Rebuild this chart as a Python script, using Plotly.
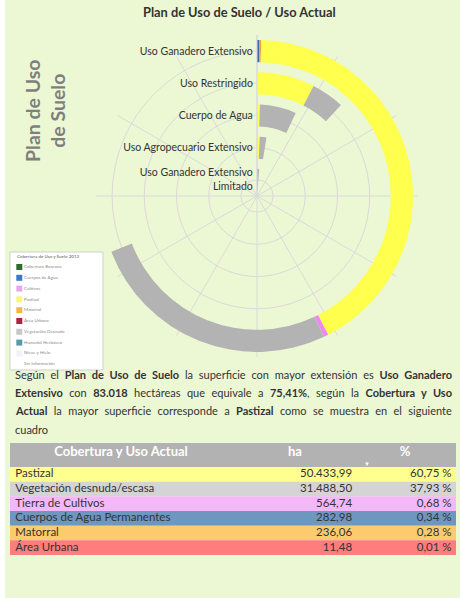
import plotly.graph_objects as go

BG = '#ECF7D4'
FONT = 'Lato'
W, H = 460, 598

# ---- chart data (ha) ----
plan = ['Uso Ganadero Extensivo<br>Limitado', 'Uso Agropecuario Extensivo',
        'Cuerpo de Agua', 'Uso Restringido', 'Uso Ganadero Extensivo']
cuerpos_agua = [0, 0, 0, 0, 282.98]
matorral = [0, 0, 0, 0, 236.06]
pastizal = [0, 900, 620, 9070, 50433.99]
cultivos = [0, 0, 0, 0, 564.74]
vegetacion = [1560, 2170, 7710, 5160, 31488.50]
area_urbana = [0, 0, 0, 0, 11.48]

series = [
    ('Cuerpos de Agua', cuerpos_agua, '#2E6DB4'),
    ('Matorral', matorral, '#F0A030'),
    ('Pastizal', pastizal, '#FFFF4D'),
    ('Cultivos', cultivos, '#EE88F0'),
    ('Vegetación desnuda', vegetacion, '#B3B3B3'),
    ('Área Urbana', area_urbana, '#C0304A'),
]
FULL_SCALE = 120000  # ha for a full turn
RING = 0.6875        # ring thickness in radial units

# ---- table data ----
tab_header = ['Cobertura y Uso Actual', 'ha', '%']
cob_names = ['Pastizal', 'Vegetación desnuda/escasa', 'Tierra de Cultivos',
             'Cuerpos de Agua Permanentes', 'Matorral', 'Área Urbana']
cob_ha = ['50.433,99', '31.488,50', '564,74', '282,98', '236,06', '11,48']
cob_pct = ['60,75 %', '37,93 %', '0,68 %', '0,34 %', '0,28 %', '0,01 %']
row_colors = ['#FFFF8F', '#D4D4D4', '#F4B8F8', '#6E97C0', '#FCCB6E', '#FF7D7D']

# ---- legend picture data ----
leg_names = ['Cobertura Boscosa', 'Cuerpos de Agua', 'Cultivos', 'Pastizal', 'Matorral',
             'Área Urbana', 'Vegetación Desnuda', 'Humedal Herbáceo', 'Nieve y Hielo', 'Sin Información']
leg_colors = ['#2E6B2E', '#3A78C8', '#E8A8F0', '#F7F77A', '#F0B848',
              '#B02040', '#C8C8C8', '#5A9AA8', '#F2F2FA', '#FFFFFF']


def px(x): return x / W
def py(y): return 1 - y / H


fig = go.Figure()

# radial stacked bars
positions = list(range(len(plan)))
start = [0.0] * len(plan)
for name, vals, col in series:
    fig.add_trace(go.Barpolar(
        r=[RING] * len(plan),
        base=[p + 0.5 - RING / 2 for p in positions],
        theta=[(s + v / 2) * 360 / FULL_SCALE for s, v in zip(start, vals)],
        width=[v * 360 / FULL_SCALE for v in vals],
        marker=dict(color=col, line=dict(width=0)),
        name=name, showlegend=False, hoverinfo='skip'))
    start = [s + v for s, v in zip(start, vals)]

fig.update_layout(
    width=W, height=H,
    paper_bgcolor=BG, plot_bgcolor=BG,
    margin=dict(l=0, r=0, t=0, b=0),
    font=dict(family=FONT, color='#333333'),
    showlegend=False, barmode='overlay',
    polar=dict(
        domain=dict(x=[px(96), px(418)], y=[py(357), py(35)]),
        bgcolor='rgba(0,0,0,0)',
        radialaxis=dict(range=[0, 5], tickvals=[p + 0.5 for p in positions], ticktext=plan,
                        angle=90, side='counterclockwise', tickangle=90, ticks='',
                        showline=True, linecolor='#D9D9D9', linewidth=1,
                        gridcolor='#DADADA', gridwidth=1,
                        tickfont=dict(size=10.5, color='#333333', family=FONT)),
        angularaxis=dict(rotation=90, direction='clockwise', dtick=30, showticklabels=False,
                         ticks='', showline=False, gridcolor='#DADADA', gridwidth=1),
    ),
)

# legend picture
fig.add_trace(go.Scatter(
    x=[0.1] * len(leg_names), y=list(range(len(leg_names))),
    mode='markers+text', text=leg_names, textposition='middle right',
    textfont=dict(size=4.5, color='#8A8A8A', family=FONT),
    marker=dict(symbol='square', size=6, color=leg_colors, line=dict(width=0)),
    xaxis='x', yaxis='y', hoverinfo='skip', cliponaxis=False))
fig.add_shape(type='rect', xref='paper', yref='paper', x0=px(10), x1=px(103), y0=py(370), y1=py(252),
              fillcolor='white', line=dict(color='#CFCFCF', width=1), layer='below')
fig.add_annotation(xref='x', yref='y', x=0.05, y=-0.95, text='<b>Cobertura de Uso y Suelo 2013</b>',
                   showarrow=False, xanchor='left', yanchor='middle', font=dict(size=4.5, color='#8A8A8A'))

# white strip on left edge
fig.add_shape(type='rect', xref='paper', yref='paper', x0=0, x1=px(5), y0=0, y1=1,
              fillcolor='white', line=dict(width=0), layer='below')

# table drawn on its own cartesian axes: rows 0..5, header above
n = len(cob_names)
HDR = 24 / 14.67
fig.add_trace(go.Bar(orientation='h', y=list(range(n)), x=[1] * n, width=1, base=0,
                     marker=dict(color=row_colors, line=dict(width=0)),
                     xaxis='x2', yaxis='y2', hoverinfo='skip'))
fig.add_trace(go.Bar(orientation='h', y=[-0.5 - HDR / 2], x=[1], width=HDR, base=0,
                     marker=dict(color='#B2B2B2', line=dict(width=0)),
                     xaxis='x2', yaxis='y2', hoverinfo='skip'))
cell_font = dict(size=11.5, color='#333333', family=FONT)
fig.add_trace(go.Scatter(x=[0.012] * n, y=list(range(n)), text=cob_names, mode='text',
                         textposition='middle right', textfont=cell_font,
                         xaxis='x2', yaxis='y2', hoverinfo='skip', cliponaxis=False))
fig.add_trace(go.Scatter(x=[0.767] * n, y=list(range(n)), text=cob_ha, mode='text',
                         textposition='middle left', textfont=cell_font,
                         xaxis='x2', yaxis='y2', hoverinfo='skip', cliponaxis=False))
fig.add_trace(go.Scatter(x=[0.99] * n, y=list(range(n)), text=cob_pct, mode='text',
                         textposition='middle left', textfont=cell_font,
                         xaxis='x2', yaxis='y2', hoverinfo='skip', cliponaxis=False))
fig.add_trace(go.Scatter(x=[0.249, 0.639, 0.886], y=[-1.5] * 3,
                         text=['<b>%s</b>' % h for h in tab_header], mode='text',
                         textposition='middle center',
                         textfont=dict(size=13, color='white', family=FONT),
                         xaxis='x2', yaxis='y2', hoverinfo='skip', cliponaxis=False))
fig.add_annotation(xref='x2', yref='y2', x=0.8, y=-0.72, text='▼', showarrow=False,
                   font=dict(size=6, color='white'))

fig.update_layout(
    xaxis=dict(domain=[px(10), px(103)], range=[0, 1], visible=False, fixedrange=True),
    yaxis=dict(domain=[py(370), py(252)], range=[9.54, -1.39], visible=False, fixedrange=True),
    xaxis2=dict(domain=[px(10), px(456)], range=[0, 1], visible=False, fixedrange=True),
    yaxis2=dict(domain=[py(555), py(443)], range=[n - 0.5, -0.5 - HDR], visible=False, fixedrange=True),
)

# title
fig.add_annotation(xref='paper', yref='paper', x=px(239), y=py(12), text='<b>Plan de Uso de Suelo / Uso Actual</b>',
                   showarrow=False, xanchor='center', yanchor='middle', font=dict(size=12.8, color='#333333'))

# axis title
fig.add_annotation(xref='paper', yref='paper', x=px(45), y=py(111), text='<b>Plan de Uso<br>de Suelo</b>',
                   showarrow=False, textangle=-90, xanchor='center', yanchor='middle',
                   font=dict(size=19.5, color='#7F7F7F'))

# paragraph (justified afterwards in the page)
lines = [
    'Según el <b>Plan de Uso de Suelo</b> la superficie con mayor extensión es <b>Uso Ganadero</b>',
    '<b>Extensivo</b> con <b>83.018</b> hectáreas que equivale a <b>75,41%</b>, según la <b>Cobertura y Uso</b>',
    '<b>Actual</b> la mayor superficie corresponde a <b>Pastizal</b> como se muestra en el siguiente',
    'cuadro',
]
para_idx = []
for i, t in enumerate(lines):
    para_idx.append(len(fig.layout.annotations))
    fig.add_annotation(xref='paper', yref='paper', x=px(15), y=py(374 + 18.4 * i), text=t,
                       showarrow=False, xanchor='left', yanchor='middle',
                       font=dict(size=11, color='#333333'))

post = """
document.body.style.margin = '0';
var gd = document.getElementById('{plot_id}');
var idx = %s;
var LEFT = 15, RIGHT = 452;
idx.forEach(function(k, i) {
  var t = gd.querySelector('g.annotation[data-index="' + k + '"] text.annotation-text');
  if (!t) return;
  var sp = (t.textContent.match(/ /g) || []).length;
  if (i < idx.length - 1 && sp > 0) {
    for (var it = 0; it < 3; it++) {
      var w = t.getBoundingClientRect().width;
      var cur = parseFloat(t.style.wordSpacing) || 0;
      t.style.wordSpacing = (cur + (RIGHT - LEFT - w) / sp) + 'px';
    }
  }
  var r = t.getBoundingClientRect();
  var gr = gd.getBoundingClientRect();
  var shift = LEFT - (r.left - gr.left);
  var tr = t.getAttribute('transform') || '';
  t.setAttribute('transform', 'translate(' + shift + ',0) ' + tr);
});
""" % str(para_idx)

fig.write_html('out.html', post_script=post, config={'displayModeBar': False})
